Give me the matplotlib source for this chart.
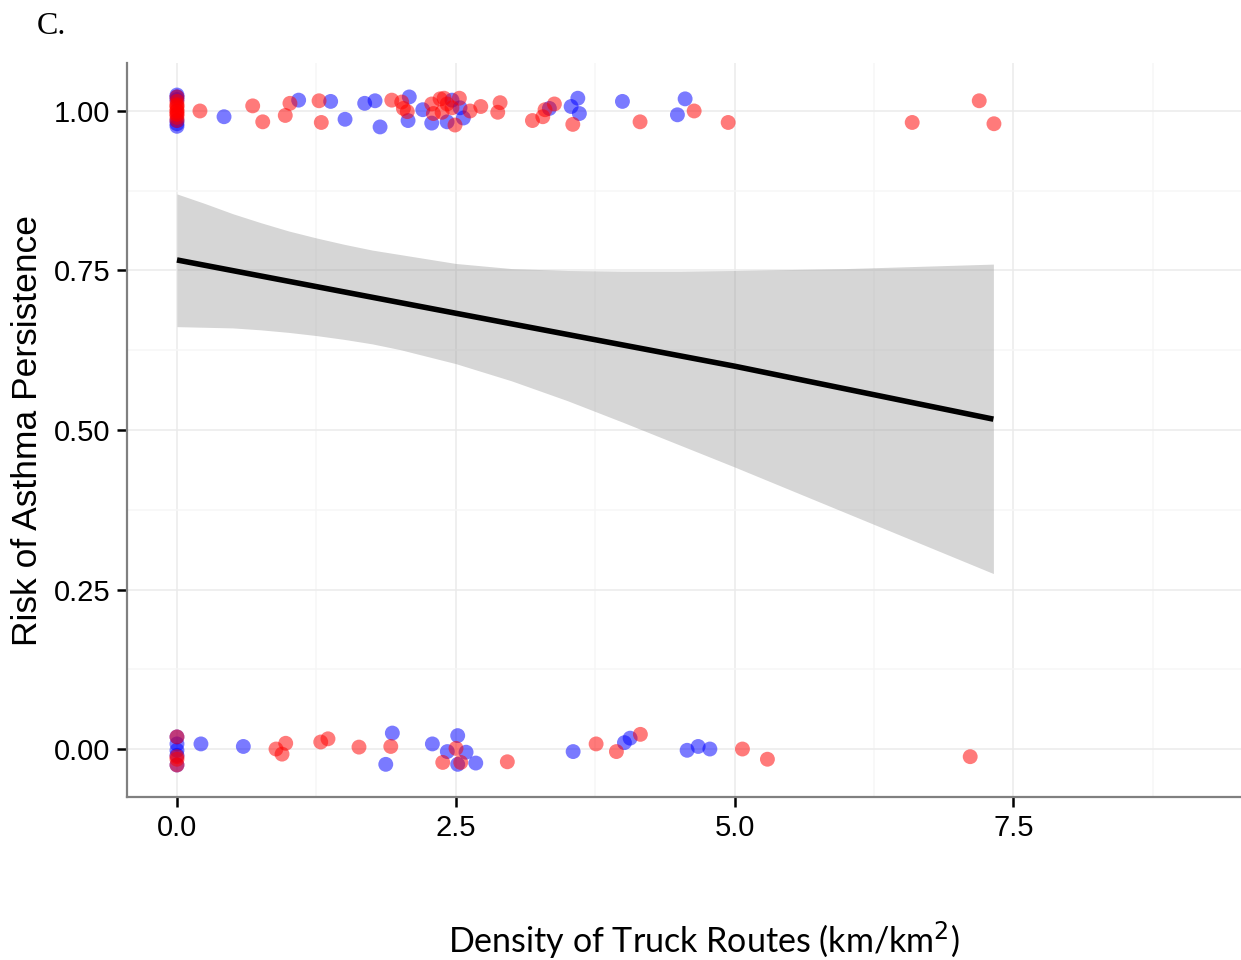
import matplotlib
matplotlib.use('Agg')
import matplotlib.pyplot as plt
import numpy as np

plt.rcParams['font.family'] = 'Liberation Sans'

# persistent asthma (y = 1) -- red / blue groups, y includes the jitter seen in the plot
red_top_x = [0, 0, 0, 0, 0, 0, 0, 0, 0, 0, 0,
             0.206, 0.679, 0.769, 0.971, 1.013, 1.274, 1.294, 1.926, 2.015, 2.030,
             2.065, 2.284, 2.299, 2.359, 2.395, 2.422, 2.377, 2.466, 2.493, 2.532,
             2.628, 2.724, 2.897, 2.876, 3.187, 3.280, 3.300, 3.384, 3.549, 4.152,
             4.637, 4.942, 6.592, 7.193, 7.325]
red_top_y = [0.985, 0.990, 0.995, 1.000, 1.005, 1.010, 1.015, 1.000, 0.995, 1.008, 1.022,
             1.000, 1.008, 0.983, 0.993, 1.012, 1.016, 0.982, 1.017, 1.014, 1.004,
             0.999, 1.011, 0.996, 1.019, 1.020, 1.011, 0.998, 1.005, 0.978, 1.020,
             1.000, 1.007, 1.013, 0.998, 0.985, 0.991, 1.002, 1.011, 0.979, 0.983,
             1.000, 0.982, 0.982, 1.016, 0.980]
blue_top_x = [0, 0, 0, 0, 0, 0,
              0.422, 1.091, 1.378, 1.507, 1.683, 1.776, 1.821, 2.083, 2.072, 2.204,
              2.284, 2.422, 2.466, 2.568, 2.538, 3.339, 3.534, 3.594, 3.608, 3.994,
              4.487, 4.556]
blue_top_y = [0.976, 0.980, 1.022, 1.025, 1.018, 0.985,
              0.991, 1.017, 1.015, 0.987, 1.012, 1.016, 0.975, 1.022, 0.985, 1.002,
              0.981, 0.983, 1.017, 0.989, 1.005, 1.004, 1.007, 1.020, 0.996, 1.015,
              0.994, 1.019]

# non persistent (y = 0)
red_bot_x = [0, 0, 0, 0,
             0.888, 0.975, 0.942, 1.289, 1.354, 1.632, 1.917, 2.383, 2.502, 2.544,
             2.962, 3.758, 3.940, 4.155, 5.070, 5.294, 7.112]
red_bot_y = [0.019, -0.012, -0.016, -0.025,
             0.000, 0.009, -0.008, 0.011, 0.016, 0.003, 0.004, -0.021, 0.001, -0.021,
             -0.020, 0.008, -0.004, 0.023, 0.000, -0.016, -0.012]
blue_bot_x = [0, 0, 0, 0, 0,
              0.215, 0.595, 1.931, 1.872, 2.290, 2.424, 2.517, 2.592, 2.517, 2.679,
              3.552, 4.012, 4.063, 4.574, 4.673, 4.778]
blue_bot_y = [0.019, 0.008, -0.002, -0.025, -0.010,
              0.008, 0.004, 0.025, -0.024, 0.008, -0.004, 0.021, -0.005, -0.024, -0.022,
              -0.004, 0.010, 0.017, -0.002, 0.004, 0.000]

# logistic fit and its confidence band
fit_x = [0.0, 2.5, 5.0, 7.32]
fit_y = [0.7665, 0.683, 0.600, 0.517]
band_x = [0, 0.25, 0.5, 0.75, 1.0, 1.25, 1.5, 1.75, 2.0, 2.5, 3.0, 3.5, 4.0, 4.5,
          5.0, 6.0, 7.32]
band_hi = [0.870, 0.855, 0.839, 0.825, 0.812, 0.801, 0.791, 0.782, 0.775, 0.761,
           0.753, 0.750, 0.749, 0.749, 0.750, 0.753, 0.760]
band_lo = [0.662, 0.661, 0.660, 0.657, 0.653, 0.648, 0.642, 0.635, 0.626, 0.604,
           0.577, 0.546, 0.512, 0.477, 0.442, 0.370, 0.275]

xticks = [0.0, 2.5, 5.0, 7.5]
yticks = [0.00, 0.25, 0.50, 0.75, 1.00]

fig = plt.figure(figsize=(12.41, 9.6), dpi=100)
ax = fig.add_axes([127 / 1241, 163 / 960, 1 - 127 / 1241, 734 / 960])

ax.set_xlim(-0.448, 9.54)
ax.set_ylim(-0.0752, 1.0752)

# grid
ax.set_xticks(xticks)
ax.set_yticks(yticks)
ax.set_xticks([1.25, 3.75, 6.25, 8.75], minor=True)
ax.set_yticks([0.125, 0.375, 0.625, 0.875], minor=True)
ax.grid(True, which='major', color='#EBEBEB', lw=1.1)
ax.grid(True, which='minor', color='#F6F6F6', lw=1.1)
ax.set_axisbelow(True)

ax.fill_between(band_x, band_lo, band_hi, color='#999999', alpha=0.4, lw=0, zorder=2)
ax.plot(fit_x, fit_y, color='black', lw=4, solid_capstyle='butt', zorder=3)

pt = dict(s=115, alpha=0.52, edgecolors='none', zorder=4)
ax.scatter(blue_top_x, blue_top_y, color='#0000FF', **pt)
ax.scatter(blue_bot_x, blue_bot_y, color='#0000FF', **pt)
ax.scatter(red_top_x, red_top_y, color='#FF0000', **pt)
ax.scatter(red_bot_x, red_bot_y, color='#FF0000', **pt)

for s in ['top', 'right']:
    ax.spines[s].set_visible(False)
for s in ['left', 'bottom']:
    ax.spines[s].set_color('#808080')
    ax.spines[s].set_linewidth(1.6)

ax.set_xticklabels(['0.0', '2.5', '5.0', '7.5'])
ax.set_yticklabels(['0.00', '0.25', '0.50', '0.75', '1.00'])
ax.tick_params(which='major', length=7, width=1.8, color='black', labelsize=21,
               pad=5, labelcolor='black')
ax.tick_params(which='minor', length=0)

ax.set_ylabel('Risk of Asthma Persistence', fontsize=25.5, labelpad=7)
fig.text(704 / 1241, 1 - 940 / 960, 'Density of Truck Routes (km/km$^2$)',
         fontsize=24.5, family='Lato', ha='center', va='center')
fig.text(37 / 1241, 1 - 26 / 960, 'C.', fontsize=23, family='Liberation Serif',
         ha='left', va='center')

fig.savefig('out.png', dpi=100)
